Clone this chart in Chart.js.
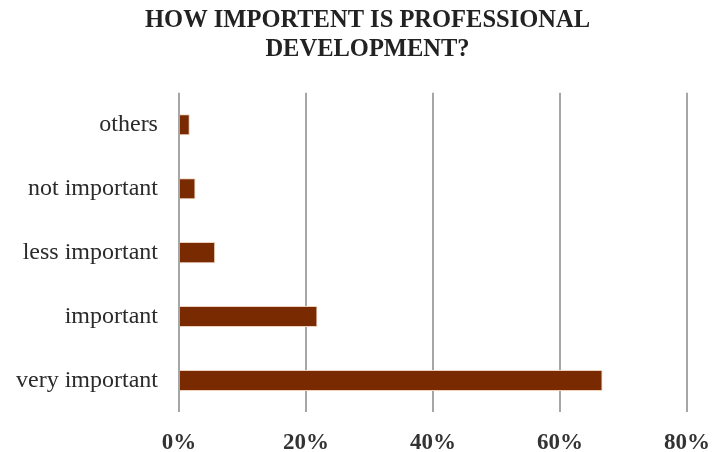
<!DOCTYPE html>
<html>
<head>
<meta charset="utf-8">
<script src="https://cdn.jsdelivr.net/npm/chart.js@4"></script>
<style>
  html, body { margin: 0; padding: 0; background: #ffffff; }
  #wrap { width: 714px; height: 452px; }
</style>
</head>
<body>
<div id="wrap"><canvas id="grafik"></canvas></div>
<script>
// data
const kategori = ["others", "not important", "less important", "important", "very important"];
const nilai = [1.7, 2.6, 5.7, 21.8, 66.7];
const judul = ["HOW IMPORTENT IS PROFESSIONAL", "DEVELOPMENT?"];

// gradasi coklat untuk batang
function warnaBatang(ctx) {
    const chart = ctx.chart;
    const el = ctx.element;
    if (!el || !chart.chartArea) return "#7a2a00";
    const atas = el.y - el.height / 2;
    const bawah = el.y + el.height / 2;
    if (!isFinite(atas) || !isFinite(bawah) || atas === bawah) return "#7a2a00";
    const g = chart.ctx.createLinearGradient(0, atas, 0, bawah);
    g.addColorStop(0, "#6a2000");
    g.addColorStop(0.5, "#8a3300");
    g.addColorStop(1, "#6a2000");
    return g;
}

// judul sedikit digeser ke kanan seperti di gambar asli
const geserJudul = {
    id: "geserJudul",
    afterLayout(chart) {
        if (chart.titleBlock) chart.titleBlock.left += 53;
    }
};

// buang padding otomatis dari label sumbu biar posisi area pas
function tanpaPadding(scale) {
    scale.paddingLeft = 0;
    scale.paddingRight = 0;
    scale.paddingTop = 0;
    scale.paddingBottom = 0;
}

new Chart(document.getElementById("grafik"), {
    type: "bar",
    data: {
        labels: kategori,
        datasets: [{
            data: nilai,
            backgroundColor: warnaBatang,
            borderColor: "#ecd2bb",
            borderWidth: 1,
            borderSkipped: "left",
            barPercentage: 0.66,
            categoryPercentage: 0.5
        }]
    },
    plugins: [geserJudul],
    options: {
        indexAxis: "y",
        responsive: true,
        maintainAspectRatio: false,
        animation: false,
        layout: { autoPadding: false, padding: { left: -5, right: 27, top: 0, bottom: -22 } },
        plugins: {
            legend: { display: false },
            tooltip: { enabled: false },
            title: {
                display: true,
                text: judul,
                color: "#222",
                font: { family: "Liberation Serif", size: 24.5, weight: "bold" },
                lineHeight: 1.12,
                padding: { top: 6, bottom: 28 }
            }
        },
        scales: {
            x: {
                min: 0,
                max: 80,
                afterFit: tanpaPadding,
                ticks: {
                    stepSize: 20,
                    callback: v => v + "%",
                    color: "#333",
                    padding: 17,
                    font: { family: "Liberation Serif", size: 23, weight: "bold" }
                },
                grid: { color: "#a6a6a6", lineWidth: 2, drawTicks: false },
                border: { display: false }
            },
            y: {
                afterFit: tanpaPadding,
                ticks: {
                    color: "#2a2a2a",
                    padding: 21,
                    font: { family: "Liberation Serif", size: 24 }
                },
                grid: { display: false, drawTicks: false },
                border: { display: false }
            }
        }
    }
});
</script>
</body>
</html>
